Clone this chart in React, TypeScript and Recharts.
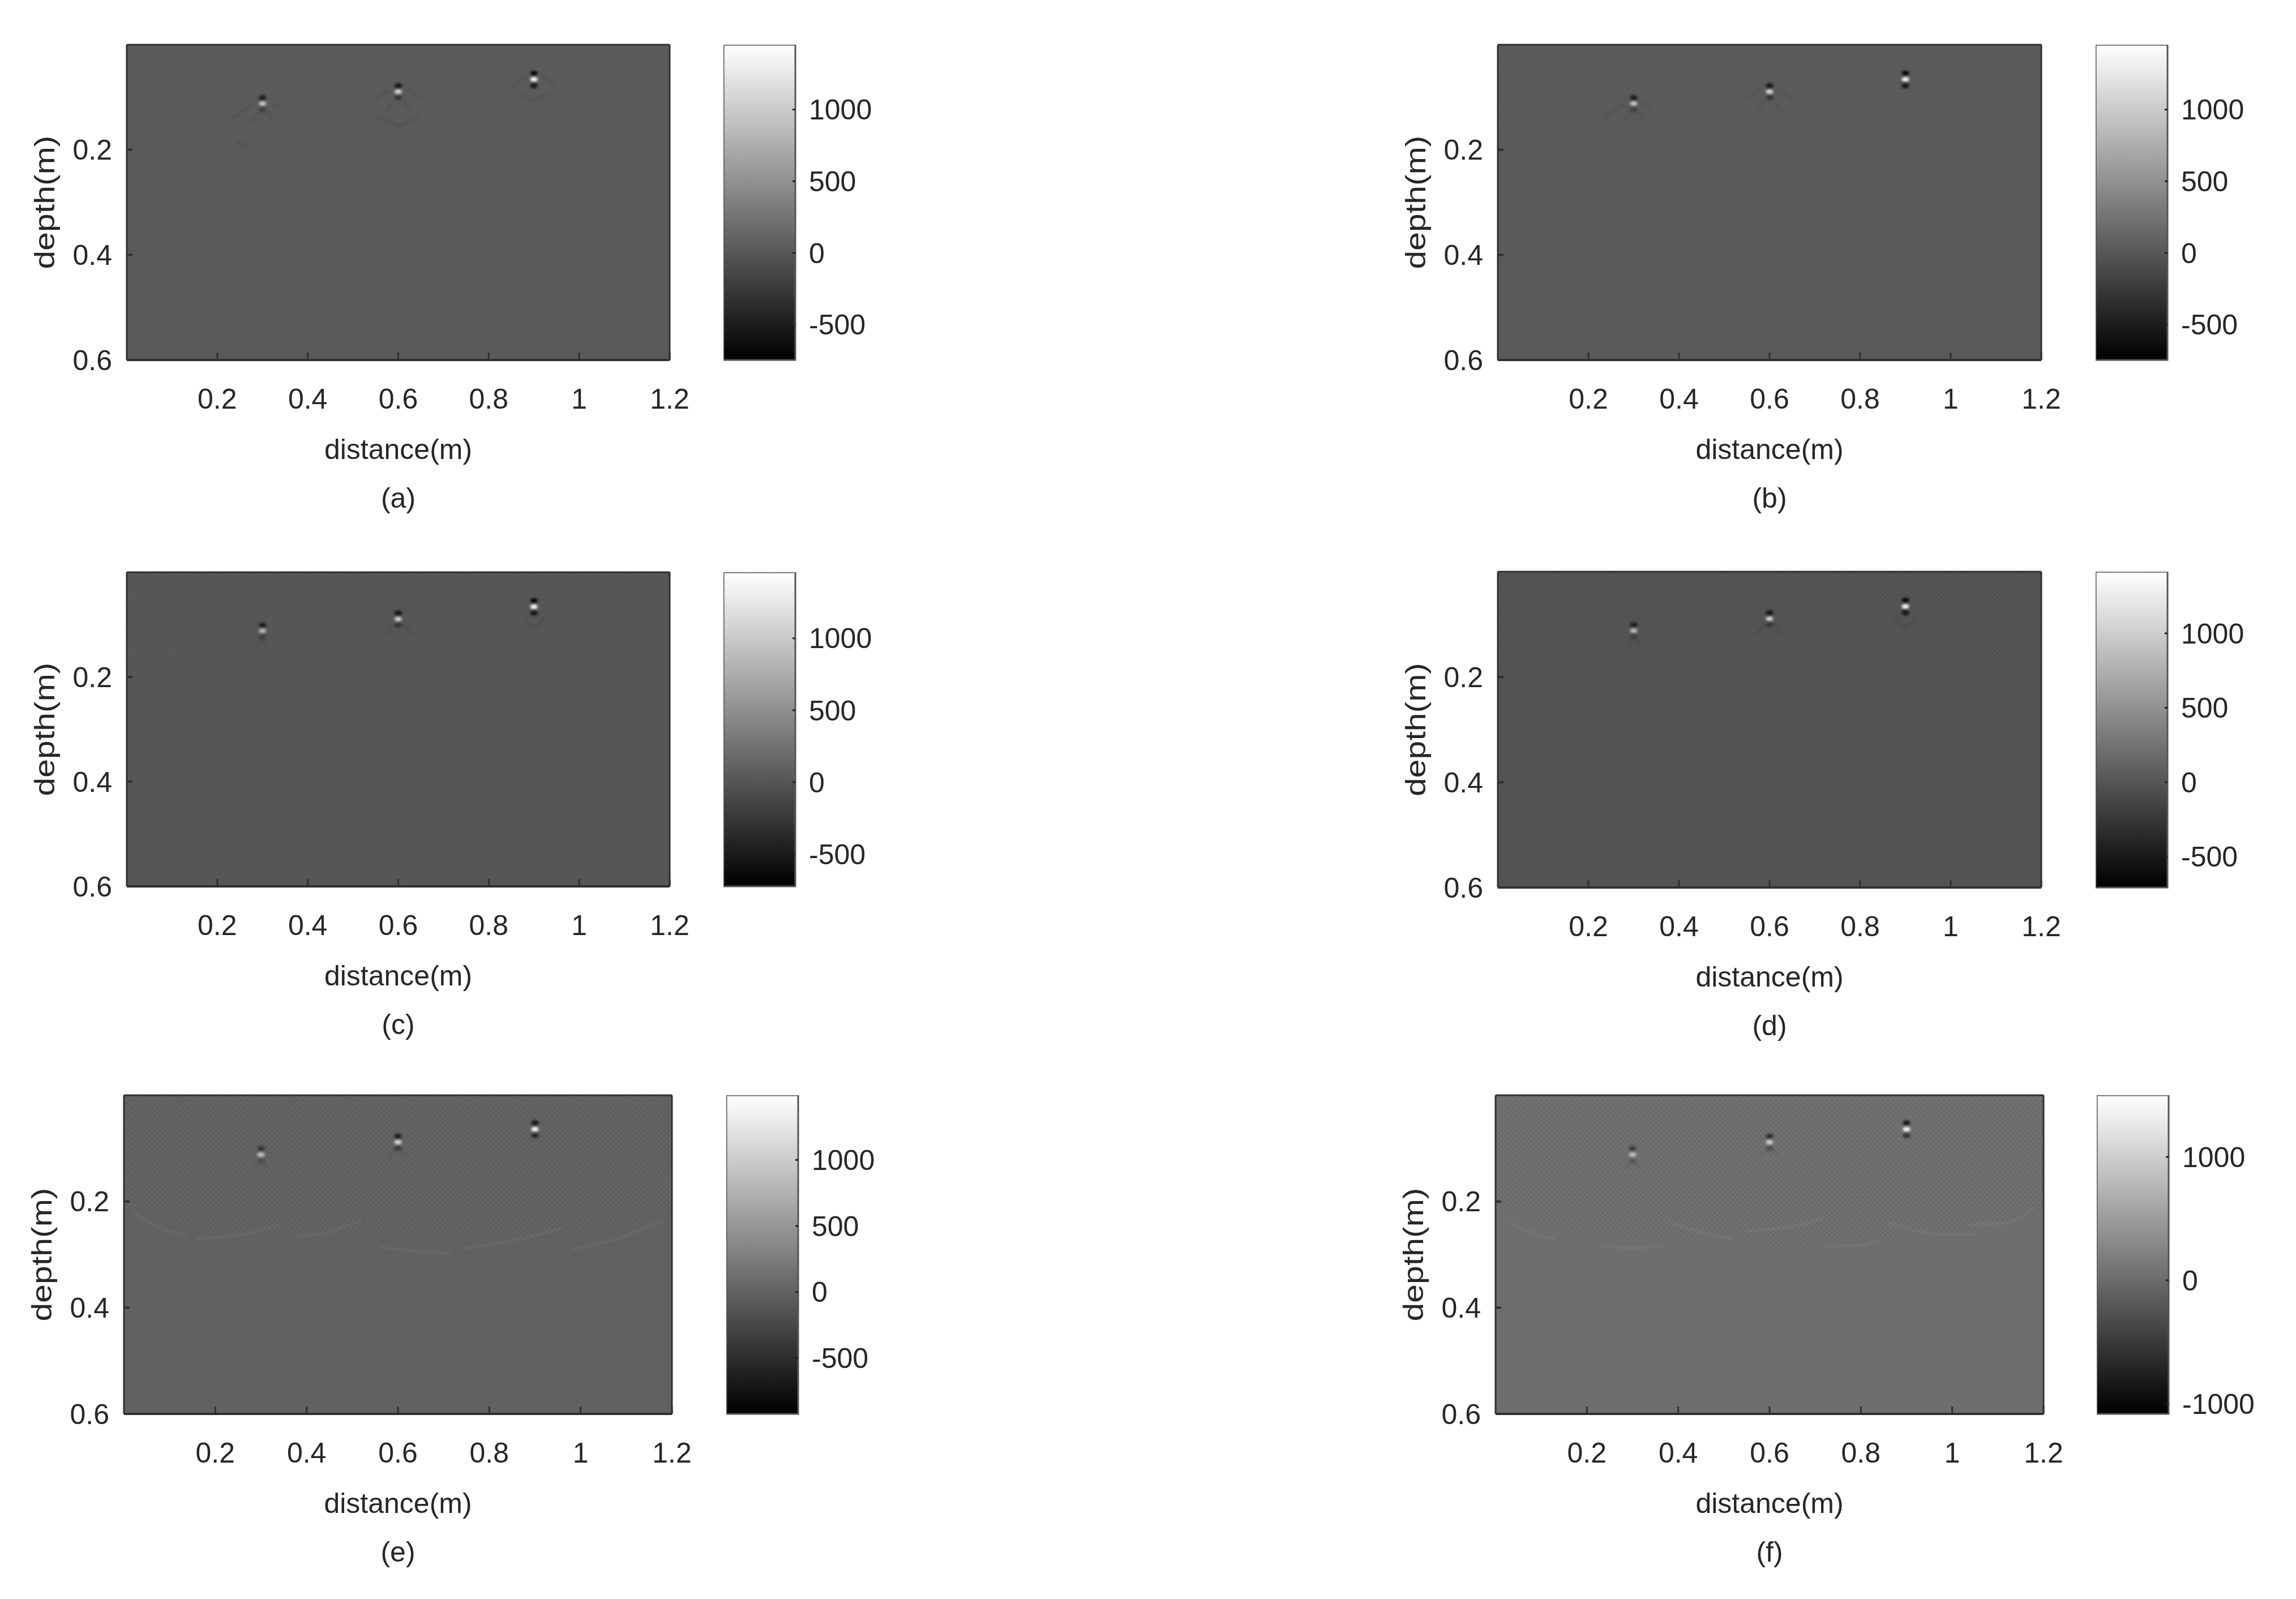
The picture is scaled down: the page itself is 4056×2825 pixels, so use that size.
import React from 'react';
import { ComposedChart, BarChart, Area, Bar, Line, Scatter, XAxis, YAxis } from 'recharts';

const distanceTicks = [0.2, 0.4, 0.6, 0.8, 1, 1.2];
const depthTicks = [0.2, 0.4, 0.6];
const barTicksDefault = [1000, 500, 0, -500];
const barTicksF = [1000, 0, -1000];

// [distance, depth, amplitude] of the bright/dark spots
const spotsA = [
  [0.3, 0.101, -560], [0.3, 0.112, 1000], [0.3, 0.124, -230],
  [0.6, 0.078, -650], [0.6, 0.0895, 1130], [0.6, 0.101, -320],
  [0.9, 0.054, -740], [0.9, 0.066, 1440], [0.9, 0.078, -640],
];
const spotsC = [
  [0.3, 0.101, -520], [0.3, 0.112, 900], [0.3, 0.124, -200],
  [0.6, 0.078, -620], [0.6, 0.0895, 1100], [0.6, 0.101, -300],
  [0.9, 0.054, -720], [0.9, 0.066, 1440], [0.9, 0.078, -620],
];
const spotsE = [
  [0.3, 0.1, -500], [0.3, 0.112, 950], [0.3, 0.124, -220],
  [0.6, 0.077, -700], [0.6, 0.0885, 1200], [0.6, 0.1, -380],
  [0.9, 0.052, -850], [0.9, 0.064, 1480], [0.9, 0.076, -620],
];
const spotsF = [
  [0.3, 0.1, -560], [0.3, 0.112, 900], [0.3, 0.124, -240],
  [0.6, 0.077, -680], [0.6, 0.0885, 1050], [0.6, 0.1, -320],
  [0.9, 0.052, -950], [0.9, 0.064, 1480], [0.9, 0.076, -620],
];

// faint diffraction tails under the targets, [distance, depth]
const tailsNear = [
  [[0.275, 0.149], [0.291, 0.127]], [[0.325, 0.145], [0.31, 0.127]],
  [[0.23, 0.141], [0.28, 0.112]], [[0.319, 0.111], [0.342, 0.123]],
  [[0.241, 0.181], [0.267, 0.198]],
  [[0.574, 0.127], [0.588, 0.109]], [[0.612, 0.109], [0.626, 0.127]],
  [[0.548, 0.104], [0.582, 0.085]], [[0.618, 0.085], [0.652, 0.104]],
  [[0.554, 0.136], [0.6, 0.155], [0.647, 0.136]],
  [[0.85, 0.08], [0.884, 0.058]], [[0.916, 0.058], [0.95, 0.08]],
  [[0.87, 0.095], [0.897, 0.106], [0.931, 0.095]],
];
const tailsD = [
  [[0.288, 0.145], [0.295, 0.127]], [[0.312, 0.145], [0.305, 0.127]],
  [[0.57, 0.12], [0.59, 0.098]], [[0.61, 0.098], [0.63, 0.12]],
  [[0.875, 0.085], [0.89, 0.1], [0.9, 0.108], [0.91, 0.1], [0.925, 0.085]],
];
const tailsE = [
  [[0.285, 0.14], [0.296, 0.124]], [[0.315, 0.14], [0.304, 0.124]],
  [[0.58, 0.115], [0.595, 0.1]], [[0.62, 0.115], [0.605, 0.1]],
];

// scalloped wave fronts of the last two panels
const arcsE = [
  [[0.02, 0.22], [0.08, 0.25], [0.14, 0.265]],
  [[0.16, 0.27], [0.26, 0.262], [0.34, 0.245]],
  [[0.38, 0.265], [0.46, 0.255], [0.52, 0.235]],
  [[0.56, 0.285], [0.62, 0.292], [0.72, 0.298]],
  [[0.74, 0.29], [0.86, 0.272], [0.96, 0.25]],
  [[0.98, 0.29], [1.08, 0.27], [1.18, 0.235]],
];
const arcsF = [
  [[0.03, 0.24], [0.1, 0.265], [0.13, 0.27]],
  [[0.23, 0.283], [0.3, 0.288], [0.37, 0.283]],
  [[0.38, 0.24], [0.46, 0.26], [0.52, 0.27]],
  [[0.55, 0.255], [0.66, 0.245], [0.72, 0.23]],
  [[0.72, 0.285], [0.8, 0.282], [0.84, 0.272]],
  [[0.86, 0.24], [0.98, 0.262], [1.05, 0.262]],
  [[1.03, 0.245], [1.12, 0.24], [1.18, 0.21]],
];

// lower edge of the textured zone, [distance, depth]
const edgeA = [[0, 0.2], [0.3, 0.21], [0.6, 0.22], [0.9, 0.21], [1.2, 0.2]];
const edgeE = [[0, 0.21], [0.1, 0.25], [0.3, 0.27], [0.45, 0.265], [0.6, 0.285], [0.9, 0.27], [1.1, 0.25], [1.2, 0.22]];

const panels = [
  { name: '(a)', x: 224, y: 79, w: 959, h: 557, barX: 1278, range: [-746, 1452], bg: '#5a5a5a', ticks: barTicksDefault, spots: spotsA, tails: tailsNear, edge: edgeA, tex: 0.12 },
  { name: '(b)', x: 2646, y: 79, w: 960, h: 557, barX: 3702, range: [-746, 1452], bg: '#5a5a5a', ticks: barTicksDefault, spots: spotsA, tails: tailsNear.slice(0, 4).concat(tailsNear.slice(5, 9)), edge: edgeA, tex: 0.15 },
  { name: '(c)', x: 224, y: 1011, w: 959, h: 555, barX: 1278, range: [-724, 1459], bg: '#565656', ticks: barTicksDefault, spots: spotsC, tails: tailsD, edge: edgeA, tex: 0.15 },
  { name: '(d)', x: 2646, y: 1010, w: 960, h: 558, barX: 3702, range: [-707, 1414], bg: '#535353', ticks: barTicksDefault, spots: spotsC, tails: tailsD, edge: edgeA, tex: 0.25 },
  { name: '(e)', x: 219, y: 1935, w: 968, h: 563, barX: 1283, range: [-922, 1489], bg: '#616161', ticks: barTicksDefault, spots: spotsE, tails: tailsE, edge: edgeE, tex: 0.38, arcs: arcsE },
  { name: '(f)', x: 2642, y: 1935, w: 968, h: 563, barX: 3704, range: [-1083, 1500], bg: '#6e6e6e', ticks: barTicksF, spots: spotsF, tails: tailsE, edge: edgeE, tex: 0.42, arcs: arcsF },
];

const FONT = '"Liberation Sans", Arial, sans-serif';
const INK = '#262626';
const FRAME = '#303030';
const tickStyle = { fontSize: 50, fill: INK, fontFamily: FONT };
const PAD_LEFT = 200;
const PAD_RIGHT = 60;

const toLine = (pts: number[][]) => pts.map(([d, z]) => ({ d, z }));

const Panel = ({ p }: { p: any }) => {
  const [lo, hi] = p.range;
  const gray = (v: number) => {
    const g = Math.round((255 * (v - lo)) / (hi - lo));
    return `rgb(${g},${g},${g})`;
  };
  const spots = p.spots.map(([d, z, v]: number[]) => ({ d, z, v }));
  const sheet = [{ d: 0, z: 0.6 }, { d: 1.2, z: 0.6 }];
  const arcs = (p.arcs || []) as number[][][];
  const tails = p.tails as number[][][];
  return (
    <div style={{ position: 'absolute', left: p.x - PAD_LEFT, top: p.y - 20 }}>
      <ComposedChart
        width={p.w + PAD_LEFT + PAD_RIGHT}
        height={p.h + 320}
        margin={{ top: 19, left: 0, right: PAD_RIGHT - 1, bottom: 0 }}
      >
        <XAxis dataKey="d" type="number" domain={[0, 1.2]} ticks={distanceTicks} interval={0} height={300}
          allowDuplicatedCategory={false} tickSize={-13} tickMargin={63} tick={tickStyle}
          axisLine={{ stroke: FRAME, strokeWidth: 4 }} tickLine={{ stroke: FRAME, strokeWidth: 3 }} />
        <XAxis xAxisId="top" orientation="top" type="number" domain={[0, 1.2]} ticks={distanceTicks} interval={0} height={1}
          tickSize={-13} tick={false} axisLine={{ stroke: FRAME, strokeWidth: 3 }} tickLine={{ stroke: FRAME, strokeWidth: 3 }} />
        <YAxis dataKey="z" type="number" reversed domain={[0, 0.6]} ticks={depthTicks} interval={0} width={PAD_LEFT}
          tickSize={-10} tickMargin={36} tick={tickStyle}
          axisLine={{ stroke: FRAME, strokeWidth: 3 }} tickLine={{ stroke: FRAME, strokeWidth: 4 }} />
        <YAxis yAxisId="right" orientation="right" type="number" reversed domain={[0, 0.6]} ticks={depthTicks} interval={0} width={1}
          tickSize={-10} tick={false} axisLine={{ stroke: FRAME, strokeWidth: 3 }} tickLine={{ stroke: FRAME, strokeWidth: 4 }} />

        <Area data={sheet} dataKey="z" baseValue={0} fill={p.bg} fillOpacity={1} stroke="none" isAnimationActive={false} />
        <Area data={toLine(p.edge)} dataKey="z" baseValue={0} fill="url(#moire)" fillOpacity={p.tex} stroke="none" isAnimationActive={false} />
        {arcs.map((a, i) => (
          <Line key={`arc${i}`} data={toLine(a)} dataKey="z" type="monotone" dot={false} stroke="#ffffff" strokeOpacity={0.035} strokeWidth={6} isAnimationActive={false} />
        ))}
        {tails.map((a, i) => (
          <Line key={`tail${i}`} data={toLine(a)} dataKey="z" dot={false} stroke="#000000" strokeOpacity={0.075} strokeWidth={5} filter="url(#soft)" isAnimationActive={false} />
        ))}
        <Scatter
          data={spots}
          isAnimationActive={false}
          shape={(s: any) => (
            <ellipse cx={s.cx} cy={s.cy} rx={6.5} ry={4} fill={gray(s.payload.v)} filter="url(#soft)" />
          )}
        />

        <text x={PAD_LEFT + p.w / 2} y={20 + p.h + 175} textAnchor="middle" fontSize={50} fontFamily={FONT} fill={INK}>distance(m)</text>
        <text x={PAD_LEFT + p.w / 2} y={20 + p.h + 261} textAnchor="middle" fontSize={50} fontFamily={FONT} fill={INK}>{p.name}</text>
        <text
          transform={`translate(${PAD_LEFT - 128} ${20 + p.h / 2}) rotate(-90)`}
          textAnchor="middle"
          fontSize={50}
          fontFamily={FONT}
          fill={INK}
          textLength={236}
          lengthAdjust="spacingAndGlyphs"
        >
          depth(m)
        </text>
      </ComposedChart>
    </div>
  );
};

const ColorBar = ({ p }: { p: any }) => (
  <div style={{ position: 'absolute', left: p.barX, top: p.y }}>
    <BarChart
      width={127 + 160}
      height={p.h + 40}
      data={[{ n: 'scale', span: p.range }]}
      margin={{ top: 0, left: 0, right: 0, bottom: 40 }}
      barCategoryGap={0}
    >
      <XAxis dataKey="n" hide />
      <YAxis orientation="right" type="number" domain={p.range} ticks={p.ticks} interval={0} width={160}
        tickSize={-5} tickMargin={29} tick={tickStyle}
        axisLine={false} tickLine={{ stroke: '#222222', strokeWidth: 3 }} />
      <Bar dataKey="span" fill="url(#grayscale)" stroke="#555555" strokeWidth={3} isAnimationActive={false} />
    </BarChart>
  </div>
);

export default function App() {
  return (
    <div style={{ position: 'absolute', left: 0, top: 0, width: 4056, height: 2825, background: '#ffffff', overflow: 'hidden' }}>
      <svg width={0} height={0} style={{ position: 'absolute' }}>
        <defs>
          <linearGradient id="grayscale" x1="0" y1="0" x2="0" y2="1">
            <stop offset="0%" stopColor="#ffffff" />
            <stop offset="100%" stopColor="#000000" />
          </linearGradient>
          <filter id="soft" x="-60%" y="-60%" width="220%" height="220%">
            <feGaussianBlur stdDeviation="2" />
          </filter>
          <pattern id="moire" patternUnits="userSpaceOnUse" width="9" height="9">
            <path d="M0 0L9 9" stroke="#000000" strokeOpacity="0.12" strokeWidth="2" />
            <path d="M9 0L0 9" stroke="#ffffff" strokeOpacity="0.09" strokeWidth="2" />
          </pattern>
        </defs>
      </svg>
      {panels.map((p) => (
        <React.Fragment key={p.name}>
          <Panel p={p} />
          <ColorBar p={p} />
        </React.Fragment>
      ))}
    </div>
  );
}
